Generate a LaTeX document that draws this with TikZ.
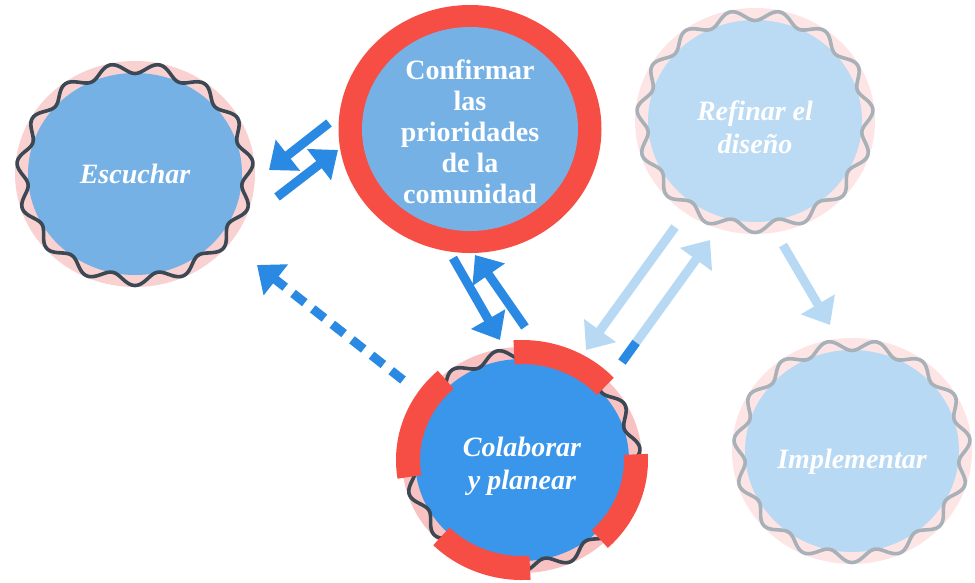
\documentclass[tikz,border=0pt]{standalone}
\usepackage{fontspec}
\setmainfont{Liberation Serif}
\usetikzlibrary{shapes.geometric,arrows.meta,calc}
\definecolor{halopink}{HTML}{F9D1D1}
\definecolor{halorose}{HTML}{F8C2C2}
\definecolor{halopale}{HTML}{FDE5E5}
\definecolor{ringred}{HTML}{F64E44}
\definecolor{skyblue}{HTML}{75B1E4}
\definecolor{deepblue}{HTML}{3A96EA}
\definecolor{paleblue}{HTML}{BBDBF5}
\definecolor{wavedark}{HTML}{3C4955}
\definecolor{wavegray}{HTML}{A8B1B8}
\definecolor{arrowblue}{HTML}{2A8AE3}
\definecolor{arrowpale}{HTML}{B8D9F4}
\tikzset{
  stage/.style 2 args={ellipse, fill=#1, inner sep=0pt,
    minimum width=240pt, minimum height=226pt,
    text=white, align=center, font=\bfseries\itshape\fontsize{28}{33}\selectfont,
    path picture={
      \fill[#2] (path picture bounding box.center) ellipse [x radius=107pt, y radius=101pt];
    }},
  keystage/.style={ellipse, fill=ringred, inner sep=0pt,
    minimum width=263pt, minimum height=248pt,
    text=white, align=center, font=\bfseries\fontsize{28}{31}\selectfont,
    path picture={
      \fill[skyblue] (path picture bounding box.center) ellipse [x radius=108pt, y radius=102pt];
    }},
  wave/.style={draw=#1, line width=3.6pt},
  flow/.style={draw=#1, line width=9pt, -{Triangle[length=24pt,width=38pt,fill=#1]}},
  seg/.style={draw=ringred, line width=24pt},
}
\begin{document}
\begin{tikzpicture}[x=1pt, y=1pt]
\useasboundingbox (0,0) rectangle (975,-582);

% steps
\node[stage={halopink}{skyblue}] (esc) at (135,-174) {Escuchar};
\node[keystage, text height=150pt] (conf) at (470,-129) {Confirmar\\las\\prioridades\\de la\\comunidad};
\node[stage={halopale}{paleblue}, text height=66pt] (ref) at (755,-121) {Refinar el\\dise\~no};
\node[stage={halorose}{deepblue}, text height=66pt] (col) at (522,-460) {Colaborar\\y planear};
\node[stage={halopale}{paleblue!95!skyblue}, text height=40pt] (imp) at (852,-451) {Implementar};

% wavy rims
\foreach \n/\c in {esc/wavedark, ref/wavegray, col/wavedark, imp/wavegray}
  \draw[wave=\c, shift={(\n.center)}] plot[variable=\t, domain=0:360, samples=361, smooth]
    ({(113+5.5*sin(15*\t))*cos(\t)}, {(106+5.5*sin(15*\t))*sin(\t)});

% red segments round the current step
\foreach \a/\b in {94/43, 132/189, 3/-47, -86/-135}
  \draw[seg] ([shift={(\a:114pt and 108pt)}]col.center) arc[start angle=\a, end angle=\b, x radius=114pt, y radius=108pt];

% arrow ends
\coordinate (ce1) at (329,-123); \coordinate (ec1) at (269,-170);
\coordinate (ec2) at (277,-197); \coordinate (ce2) at (338,-150);
\coordinate (cc1) at (453,-258); \coordinate (oc1) at (500,-340);
\coordinate (oc2) at (525,-327); \coordinate (cc2) at (475,-255);
\coordinate (oe) at (403,-380);  \coordinate (eo) at (257,-265);
\coordinate (ro1) at (675,-227); \coordinate (or1) at (586,-350);
\coordinate (or2) at (622,-362); \coordinate (ro2) at (710,-240);
\coordinate (ri) at (783,-245);  \coordinate (ir) at (830,-325);

\draw[flow=arrowblue] (ce1) -- (ec1);
\draw[flow=arrowblue] (ec2) -- (ce2);
\draw[flow=arrowblue] (cc1) -- (oc1);
\draw[flow=arrowblue] (oc2) -- (cc2);
\draw[flow=arrowblue, dash pattern=on 15pt off 10pt] (oe) -- (eo);
\draw[flow=arrowpale] (ro1) -- (or1);
\draw[flow=arrowpale] (or2) -- (ro2);
\draw[arrowblue, line width=9pt] (or2) -- ($(or2)!0.16!(ro2)$);
\draw[flow=arrowpale] (ri) -- (ir);
\end{tikzpicture}
\end{document}
